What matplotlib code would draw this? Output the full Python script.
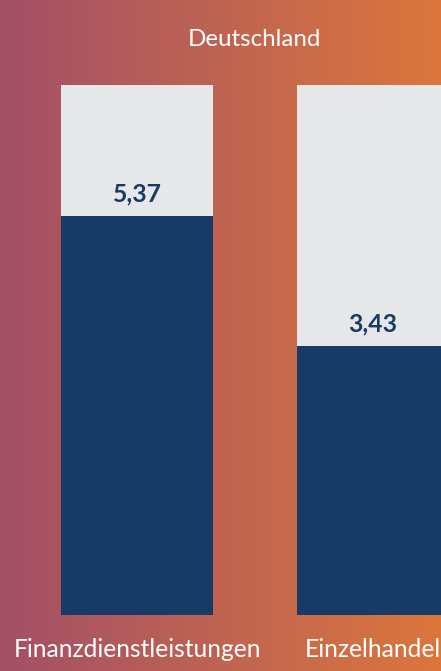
import matplotlib
matplotlib.use('Agg')
import matplotlib.pyplot as plt
import numpy as np
from matplotlib.colors import LinearSegmentedColormap

# data
title = 'Deutschland'
categories = ['Finanzdienstleistungen', 'Einzelhandel']
values = [5.37, 3.43]
value_labels = ['5,37', '3,43']

# layout (pixel-calibrated scale)
axis_min = -0.585
track_max = 7.325
x_left, x_right = -0.5805, 1.288
y_bottom, y_top = -1.421, 8.594
bar_w = 0.644

navy = '#173a66'
track = '#e6e7e9'
plt.rcParams['font.family'] = ['Lato', 'DejaVu Sans']

fig = plt.figure(figsize=(4.41, 6.71), dpi=100)

# gradient background
bg = fig.add_axes([0, 0, 1, 1], zorder=0)
cmap = LinearSegmentedColormap.from_list('bg', ['#a34f67', '#bf6452', '#dc763c'])
bg.imshow(np.linspace(0, 1, 256)[None, :], aspect='auto', cmap=cmap, extent=[0, 1, 0, 1])
bg.set_axis_off()

ax = fig.add_axes([0, 0, 1, 1], zorder=1)
ax.patch.set_alpha(0)
x = np.arange(len(categories))
ax.bar(x, track_max - axis_min, bottom=axis_min, width=bar_w, color=track, zorder=1)
ax.bar(x, np.array(values) - axis_min, bottom=axis_min, width=bar_w, color=navy, zorder=2)

for xi, v, lab in zip(x, values, value_labels):
    ax.annotate(lab, (xi, v), xytext=(0, 15.8), textcoords='offset points',
                ha='center', va='center', fontsize=17.8, fontweight='bold', color=navy)

for xi, cat in zip(x, categories):
    ax.text(xi, -1.107, cat, ha='center', va='center', fontsize=17.7, color='white')

fig.text(254 / 441, 1 - 40 / 671, title, ha='center', va='center', fontsize=17.4, color='white')

ax.set_xlim(x_left, x_right)
ax.set_ylim(y_bottom, y_top)
ax.set_axis_off()

fig.savefig('out.png', dpi=100)
